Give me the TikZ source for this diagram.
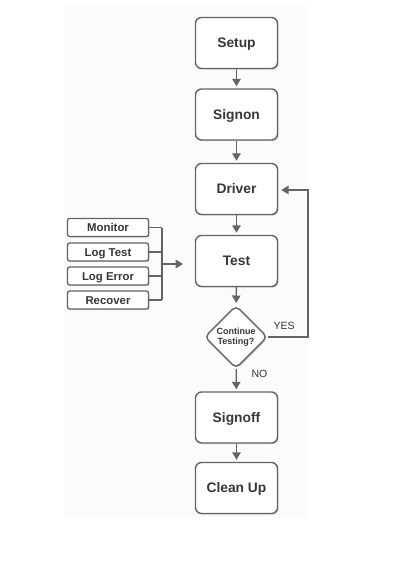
\documentclass[tikz,border=0pt]{standalone}
\usepackage{fontspec}
\setmainfont{Liberation Sans}
\usetikzlibrary{arrows.meta,shapes.geometric,shadows}
\definecolor{txt}{RGB}{55,55,55}
\definecolor{edge}{RGB}{100,100,100}
\definecolor{bg}{RGB}{251,251,251}
\tikzset{
  bigbox/.style={draw=edge, line width=1.4pt, rounded corners=6pt, fill=white,
    minimum width=82pt, minimum height=51pt, inner sep=0pt, text=txt,
    text height=9.8pt, text depth=0pt,
    font=\fontsize{13.8}{15}\selectfont\bfseries,
    drop shadow={shadow xshift=1.2pt, shadow yshift=-1.2pt, fill=black!25, opacity=0.6}},
  smallbox/.style={draw=edge, line width=1.3pt, rounded corners=2pt, fill=white,
    minimum width=81pt, minimum height=18pt, inner sep=0pt, text=txt,
    text height=8.1pt, text depth=0pt,
    font=\fontsize{11.4}{13}\selectfont\bfseries,
    drop shadow={shadow xshift=1pt, shadow yshift=-1pt, fill=black!25, opacity=0.6}},
  decision/.style={draw=edge, line width=1.4pt, diamond, aspect=1, rounded corners=5pt,
    fill=white, minimum width=63pt, minimum height=63pt, inner sep=0pt, text=txt,
    align=center, font=\fontsize{9}{10.5}\selectfont\bfseries,
    drop shadow={shadow xshift=1.2pt, shadow yshift=-1.2pt, fill=black!25, opacity=0.6}},
  flow/.style={draw=edge, line width=1.4pt, -{Triangle[width=8.5pt,length=7.5pt]}},
  plain/.style={draw=edge, line width=1.4pt},
  lab/.style={text=txt, font=\fontsize{10.5}{12}\selectfont, inner sep=0pt}
}
\begin{document}
\begin{tikzpicture}[x=1pt,y=-1pt]
\useasboundingbox (0,0) rectangle (419,561);
\fill[bg] (65,5) rectangle (308,517);
\node[bigbox] (setup) at (236.5,43) {Setup};
\node[bigbox] (signon) at (236.5,114.5) {Signon};
\node[bigbox] (driver) at (236.5,189) {Driver};
\node[bigbox] (test) at (236.5,261) {Test};
\node[decision] (cont) at (236,337) {Continue\\Testing?};
\node[bigbox] (signoff) at (236.5,417.5) {Signoff};
\node[bigbox] (clean) at (236.5,488) {Clean Up};
\node[smallbox] (mon) at (108,227.5) {Monitor};
\node[smallbox] (logt) at (108,252) {Log Test};
\node[smallbox] (loge) at (108,276) {Log Error};
\node[smallbox] (rec) at (108,300) {Recover};
\coordinate (bt) at (162,227.5);
\coordinate (bb) at (162,300);
\coordinate (bm) at (162,264);
\coordinate (yr) at (308,337);
\coordinate (yt) at (308,190);
\draw[flow, shorten >=2pt] (setup) -- (signon);
\draw[flow, shorten >=2pt] (signon) -- (driver);
\draw[flow, shorten >=2pt] (driver) -- (test);
\draw[flow, shorten >=2pt] (test) -- (cont);
\draw[flow, shorten >=2pt] (cont) -- (signoff);
\draw[flow, shorten >=2pt] (signoff) -- (clean);
\draw[plain] (mon.east) -- (bt);
\draw[plain] (logt.east) -- (logt.east -| bt);
\draw[plain] (loge.east) -- (loge.east -| bt);
\draw[plain] (rec.east) -- (bb);
\draw[plain] (bt) -- (bb);
\draw[flow] (bm) -- (183,264);
\draw[flow, shorten >=3pt] (cont.east) -- (yr) -- (yt) -- (yt -| driver.east);
\node[lab] (yes) at (284,326) {YES};
\node[lab] (no) at (259.5,373.5) {NO};
\end{tikzpicture}
\end{document}
